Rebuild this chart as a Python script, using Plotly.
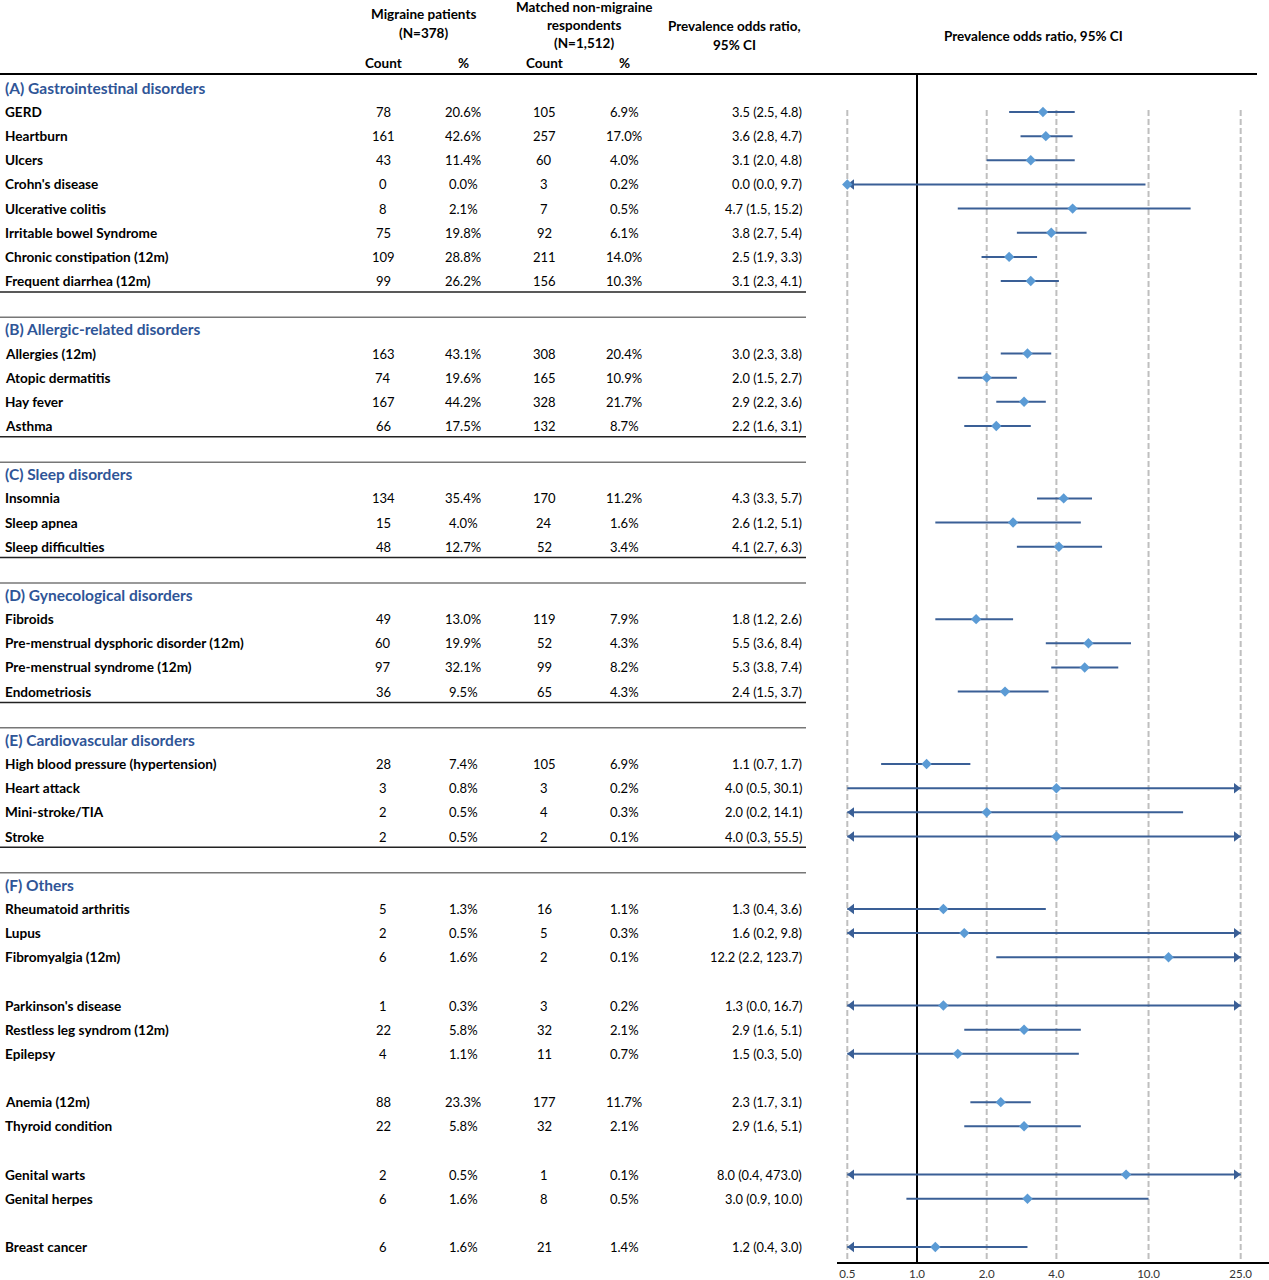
import math
import plotly.graph_objects as go

# ---------------- data ----------------
group_titles = ["(A) Gastrointestinal disorders", "(B) Allergic-related disorders",
                "(C) Sleep disorders", "(D) Gynecological disorders",
                "(E) Cardiovascular disorders", "(F) Others"]

labels = ["GERD", "Heartburn", "Ulcers", "Crohn's disease", "Ulcerative colitis",
          "Irritable bowel Syndrome", "Chronic constipation (12m)", "Frequent diarrhea (12m)",
          "Allergies (12m)", "Atopic dermatitis", "Hay fever", "Asthma",
          "Insomnia", "Sleep apnea", "Sleep difficulties",
          "Fibroids", "Pre-menstrual dysphoric disorder (12m)", "Pre-menstrual syndrome (12m)", "Endometriosis",
          "High blood pressure (hypertension)", "Heart attack", "Mini-stroke/TIA", "Stroke",
          "Rheumatoid arthritis", "Lupus", "Fibromyalgia (12m)",
          "Parkinson's disease", "Restless leg syndrom (12m)", "Epilepsy",
          "Anemia (12m)", "Thyroid condition",
          "Genital warts", "Genital herpes",
          "Breast cancer"]
group_idx = [0]*8 + [1]*4 + [2]*3 + [3]*4 + [4]*4 + [5]*11
blank_after = ["Fibromyalgia (12m)", "Epilepsy", "Thyroid condition", "Genital herpes"]

mig_count = [78, 161, 43, 0, 8, 75, 109, 99,
             163, 74, 167, 66,
             134, 15, 48,
             49, 60, 97, 36,
             28, 3, 2, 2,
             5, 2, 6, 1, 22, 4, 88, 22, 2, 6, 6]
mig_pct = ["20.6%", "42.6%", "11.4%", "0.0%", "2.1%", "19.8%", "28.8%", "26.2%",
           "43.1%", "19.6%", "44.2%", "17.5%",
           "35.4%", "4.0%", "12.7%",
           "13.0%", "19.9%", "32.1%", "9.5%",
           "7.4%", "0.8%", "0.5%", "0.5%",
           "1.3%", "0.5%", "1.6%", "0.3%", "5.8%", "1.1%", "23.3%", "5.8%", "0.5%", "1.6%", "1.6%"]
ctl_count = [105, 257, 60, 3, 7, 92, 211, 156,
             308, 165, 328, 132,
             170, 24, 52,
             119, 52, 99, 65,
             105, 3, 4, 2,
             16, 5, 2, 3, 32, 11, 177, 32, 1, 8, 21]
ctl_pct = ["6.9%", "17.0%", "4.0%", "0.2%", "0.5%", "6.1%", "14.0%", "10.3%",
           "20.4%", "10.9%", "21.7%", "8.7%",
           "11.2%", "1.6%", "3.4%",
           "7.9%", "4.3%", "8.2%", "4.3%",
           "6.9%", "0.2%", "0.3%", "0.1%",
           "1.1%", "0.3%", "0.1%", "0.2%", "2.1%", "0.7%", "11.7%", "2.1%", "0.1%", "0.5%", "1.4%"]
odds = [3.5, 3.6, 3.1, 0.0, 4.7, 3.8, 2.5, 3.1,
        3.0, 2.0, 2.9, 2.2,
        4.3, 2.6, 4.1,
        1.8, 5.5, 5.3, 2.4,
        1.1, 4.0, 2.0, 4.0,
        1.3, 1.6, 12.2, 1.3, 2.9, 1.5, 2.3, 2.9, 8.0, 3.0, 1.2]
ci_lo = [2.5, 2.8, 2.0, 0.0, 1.5, 2.7, 1.9, 2.3,
         2.3, 1.5, 2.2, 1.6,
         3.3, 1.2, 2.7,
         1.2, 3.6, 3.8, 1.5,
         0.7, 0.5, 0.2, 0.3,
         0.4, 0.2, 2.2, 0.0, 1.6, 0.3, 1.7, 1.6, 0.4, 0.9, 0.4]
ci_hi = [4.8, 4.7, 4.8, 9.7, 15.2, 5.4, 3.3, 4.1,
         3.8, 2.7, 3.6, 3.1,
         5.7, 5.1, 6.3,
         2.6, 8.4, 7.4, 3.7,
         1.7, 30.1, 14.1, 55.5,
         3.6, 9.8, 123.7, 16.7, 5.1, 5.0, 3.1, 5.1, 473.0, 10.0, 3.0]
# upper limits as drawn in the forest plot (Lupus and Parkinson's are drawn past 25)
ci_hi_drawn = [4.8, 4.7, 4.8, 9.7, 15.2, 5.4, 3.3, 4.1,
               3.8, 2.7, 3.6, 3.1,
               5.7, 5.1, 6.3,
               2.6, 8.4, 7.4, 3.7,
               1.7, 30.1, 14.1, 55.5,
               3.6, 98.0, 123.7, 167.0, 5.1, 5.0, 3.1, 5.1, 473.0, 10.0, 3.0]

axis_ticks = [0.5, 1, 2, 4, 10, 25]
axis_ticktext = ["0.5", "1.0", "2.0", "4.0", "10.0", "25.0"]
XMIN, XMAX = 0.5, 25.0

# ---------------- layout of rows ----------------
W, H = 1269, 1280
ROW0_PX, ROW_PX = 112.0, 24.15
def px2row(py):
    return (py - ROW0_PX) / ROW_PX

rows = []
header_rows = []
last_rows = []
r = -1
prev_g = None
for i, lab in enumerate(labels):
    g = group_idx[i]
    if g != prev_g:
        if prev_g is not None:
            last_rows.append(rows[-1])
            r = rows[-1] + 2
        header_rows.append(r)
        r += 1
        prev_g = g
    rows.append(r)
    r += 1
    if lab in blank_after:
        r += 1
last_rows.append(rows[-1])

AXIS_PX = 1262
y_bottom = px2row(AXIS_PX)
y_top = px2row(0)

FONT = "Lato"
BLUE_T = "#2F5597"
LINE_C = "#3A5F96"
DIAM_C = "#5B9BD5"
GRID_C = "#BFBFBF"

fig = go.Figure()

for v in axis_ticks:
    if v == 1:
        continue
    fig.add_trace(go.Scatter(x=[v, v], y=[px2row(110), y_bottom], mode="lines",
                             line=dict(color=GRID_C, width=2, dash="6px,3px"),
                             hoverinfo="skip", showlegend=False))
fig.add_trace(go.Scatter(x=[1, 1], y=[px2row(75), y_bottom], mode="lines",
                         line=dict(color="black", width=2),
                         hoverinfo="skip", showlegend=False))

lx, ly = [], []
la_x, la_y, ra_x, ra_y = [], [], [], []
for i in range(len(labels)):
    lo = max(ci_lo[i], XMIN)
    hi = min(ci_hi_drawn[i], XMAX)
    lx += [lo, hi, None]
    ly += [rows[i], rows[i], None]
    if ci_lo[i] < XMIN:
        la_x.append(XMIN * 1.045)
        la_y.append(rows[i])
    if ci_hi_drawn[i] > XMAX:
        ra_x.append(XMAX / 1.045)
        ra_y.append(rows[i])
fig.add_trace(go.Scatter(x=lx, y=ly, mode="lines", line=dict(color=LINE_C, width=2),
                         hoverinfo="skip", showlegend=False))
fig.add_trace(go.Scatter(x=la_x, y=la_y, mode="markers",
                         marker=dict(symbol="triangle-left", size=9, color=LINE_C),
                         hoverinfo="skip", showlegend=False))
fig.add_trace(go.Scatter(x=ra_x, y=ra_y, mode="markers",
                         marker=dict(symbol="triangle-right", size=9, color=LINE_C),
                         hoverinfo="skip", showlegend=False))
fig.add_trace(go.Scatter(x=[max(o, XMIN) for o in odds], y=rows, mode="markers",
                         marker=dict(symbol="diamond", size=8, color=DIAM_C),
                         text=labels, showlegend=False))

ann = []
def txt(x, y, s, anchor="center", size=12.5, bold=False, color="black", yref="y"):
    ann.append(dict(x=x / W, y=y, xref="paper", yref=yref, text=("<b>%s</b>" % s) if bold else s,
                    showarrow=False, xanchor=anchor, yanchor="middle",
                    font=dict(family=FONT, size=size, color=color)))

def ptxt(x, py, s, anchor="center", size=13.5, bold=True):
    txt(x, 1 - py / H, s, anchor, size, bold, "black", "paper")

ptxt(423, 14, "Migraine patients")
ptxt(423, 33, "(N=378)")
ptxt(383, 63, "Count")
ptxt(463, 63, "%")
ptxt(584, 7, "Matched non-migraine")
ptxt(584, 25, "respondents")
ptxt(584, 43, "(N=1,512)")
ptxt(544, 63, "Count")
ptxt(624, 63, "%")
ptxt(735, 26, "Prevalence odds ratio,")
ptxt(735, 45, "95% CI")
ptxt(1033, 36, "Prevalence odds ratio, 95% CI")

for g, t in enumerate(group_titles):
    txt(3, header_rows[g], t, "left", 15.5, True, BLUE_T)

for i, lab in enumerate(labels):
    y = rows[i]
    txt(3, y, lab, "left", 13.6, True)
    txt(383, y, str(mig_count[i]), size=13)
    txt(463, y, mig_pct[i], size=13)
    txt(544, y, str(ctl_count[i]), size=13)
    txt(624, y, ctl_pct[i], size=13)
    txt(804, y, "%.1f (%.1f, %.1f)" % (odds[i], ci_lo[i], ci_hi[i]), "right", size=12.8)

shapes = [dict(type="line", xref="paper", yref="paper", x0=0, x1=1257 / W,
               y0=1 - 74 / H, y1=1 - 74 / H, line=dict(color="black", width=2))]
for g in range(len(group_titles)):
    if g < len(group_titles) - 1:
        yl = last_rows[g] + 0.45
        shapes.append(dict(type="line", xref="paper", yref="y", x0=0, x1=806 / W,
                           y0=yl, y1=yl, line=dict(color="#222222", width=1.5)))
    if g > 0:
        yh = header_rows[g] - 0.5
        shapes.append(dict(type="line", xref="paper", yref="y", x0=0, x1=806 / W,
                           y0=yh, y1=yh, line=dict(color="#777777", width=1.5)))

px_per_dec = 69.7 / math.log10(2)
x_lo = (837 - 917) / px_per_dec
x_hi = (W - 917) / px_per_dec

fig.update_layout(
    width=W, height=H, margin=dict(l=0, r=0, t=0, b=0),
    paper_bgcolor="white", plot_bgcolor="white",
    annotations=ann, shapes=shapes, showlegend=False,
    xaxis=dict(type="log", domain=[837 / W, 1], range=[x_lo, x_hi],
               tickvals=axis_ticks, ticktext=axis_ticktext, showgrid=False, zeroline=False,
               showline=True, linecolor="black", linewidth=2, ticks="", ticklen=0,
               tickfont=dict(family=FONT, size=11.5, color="#333333")),
    yaxis=dict(domain=[(H - AXIS_PX) / H, 1], range=[y_bottom, y_top],
               showgrid=False, zeroline=False, showticklabels=False, showline=False),
)

fig.write_html("out.html", config={"displayModeBar": False},
               post_script="document.body.style.margin='0px';document.body.style.overflow='hidden';")
